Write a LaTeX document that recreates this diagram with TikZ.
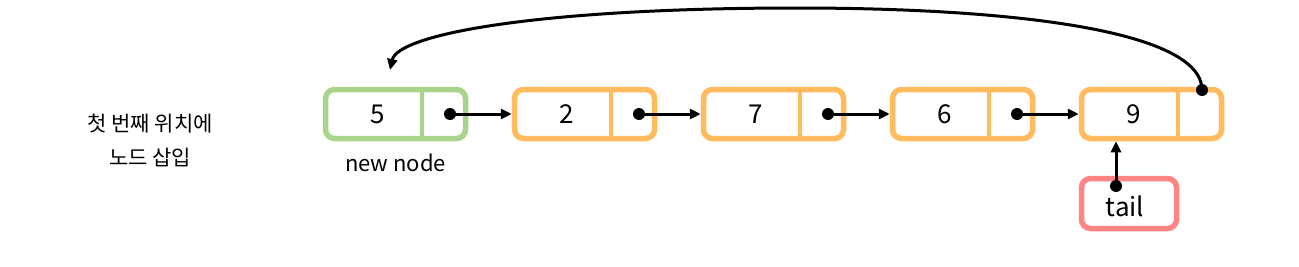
\documentclass[tikz,border=0pt]{standalone}
\usepackage{fontspec}
\setmainfont{Noto Sans CJK KR}
\usetikzlibrary{positioning,arrows.meta}
\definecolor{nodeorange}{HTML}{FFBB5E}
\definecolor{nodegreen}{HTML}{A9D48C}
\definecolor{tailred}{HTML}{FF8585}

\begin{document}
\begin{tikzpicture}[x=1pt,y=1pt,
    font=\fontsize{21}{34}\selectfont,
    listbox/.style={draw, line width=5.5pt, rounded corners=9pt,
        minimum width=140pt, minimum height=49pt, inner sep=0pt},
    bigtext/.style={font=\fontsize{26}{30}\selectfont},
    ptr/.style={line width=3pt, -{Triangle[length=11pt,width=10pt]}},
    ptrdot/.style={circle, fill=black, inner sep=0pt, minimum size=12pt}]
    \useasboundingbox (0,0) rectangle (1299,266);

    % caption
    \node[align=center] (caption) at (150,126) {첫 번째 위치에\\노드 삽입};

    % list nodes
    \foreach \val/\col [count=\i from 0] in {5/nodegreen,2/nodeorange,7/nodeorange,6/nodeorange,9/nodeorange} {
        \node[listbox, draw=\col] (b\i) at ({395.5+189*\i},152) {};
        \draw[\col, line width=4pt] ([xshift=26.5pt]b\i.north) -- ([xshift=26.5pt]b\i.south);
        \node[bigtext] (v\i) at ([xshift=-18pt]b\i.center) {\val};
    }
    \node[below=9pt of b0, font=\fontsize{22}{26}\selectfont] (newlabel) {new node};

    % next pointers
    \foreach \i [evaluate=\i as \j using int(\i+1)] in {0,...,3} {
        \node[ptrdot] (d\i) at ([xshift=54.5pt]b\i.center) {};
        \draw[ptr] (d\i.center) -- (d\i.center -| b\j.west);
    }

    % back to the first node
    \node[ptrdot] (d4) at (1202,176) {};
    \coordinate (top) at (797,258);
    \coordinate (back) at (390,196);
    \draw[ptr] (d4.center) .. controls (1202,236) and (1010,258) .. (top)
        .. controls (540,258) and (398,232) .. (back);

    % tail
    \node[listbox, draw=tailred, minimum width=95pt, minimum height=50pt] (tail) at (1129,62.5) {};
    \node[bigtext] (taillabel) at (1125,60) {tail};
    \node[ptrdot] (dt) at (1116,80) {};
    \draw[ptr] (dt.center) -- (dt.center |- b4.south);
\end{tikzpicture}
\end{document}
